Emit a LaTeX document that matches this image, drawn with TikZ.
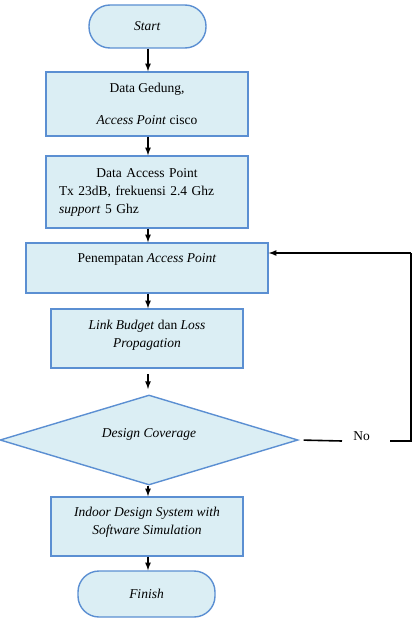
\documentclass[tikz,border=0pt]{standalone}
\usepackage{fontspec}
\setmainfont{Liberation Serif}
\usetikzlibrary{shapes.geometric}

\definecolor{boxfill}{RGB}{219,238,244}
\definecolor{boxline}{RGB}{91,143,210}

\tikzset{
    proc/.style={draw=boxline, fill=boxfill, line width=1.4pt, align=center,
        font=\fontsize{13.5}{18}\selectfont, inner sep=0pt},
    term/.style={proc, rounded corners=21pt},
    decision/.style={proc, diamond, aspect=3.3},
    flow/.style={->, >=latex, line width=1.6pt}
}

\begin{document}
\begin{tikzpicture}[x=1pt, y=-1pt]
        \useasboundingbox (0,0) rectangle (412,618);
        % blocks
        \node[term, minimum width=117pt, minimum height=43pt] (start) at (147.5,26.5) {\textit{Start}};
        \node[proc, minimum width=202pt, minimum height=64pt] (gedung) at (147,104)
            {Data Gedung,\\[14pt]\textit{Access Point} cisco};
        \node[proc, minimum width=202pt, minimum height=72pt, text width=176pt, align=left] (apdata) at (147,192)
            {\makebox[176pt][c]{Data Access Point}\\Tx 23dB, frekuensi 2.4 Ghz\\\textit{support} 5 Ghz};
        \node[proc, minimum width=242pt, minimum height=50pt] (tempat) at (147,268)
            {Penempatan \textit{Access Point}\\[2pt]\mbox{}};
        \node[proc, minimum width=192pt, minimum height=59pt] (link) at (147,338.5)
            {\textit{Link Budget} dan \textit{Loss}\\\textit{Propagation}\\[-8pt]\mbox{}};
        \node[decision, minimum width=298pt, minimum height=90pt] (cov) at (149,440)
            {\textit{Design Coverage}\\[-4pt]\mbox{}};
        \node[proc, minimum width=192pt, minimum height=59pt] (indoor) at (147,526.5)
            {\textit{Indoor Design System with}\\\textit{Software Simulation}\\[-6pt]\mbox{}};
        \node[term, minimum width=137pt, minimum height=46pt] (finish) at (146.5,594) {\textit{Finish}};
        \node[font=\fontsize{13.5}{16}\selectfont] (no) at (361.5,436) {No};

        \coordinate (a1) at (148,374);
        \coordinate (a2) at (148,389);
        \coordinate (n1) at (342,441);
        \coordinate (n2) at (390,441);
        \coordinate (up) at (411,253);

        % arrows
        \draw[flow] (start.south -| 148,0) -- (gedung.north -| 148,0);
        \draw[flow] (gedung.south -| 148,0) -- (apdata.north -| 148,0);
        \draw[flow] (apdata.south -| 148,0) -- (tempat.north -| 148,0);
        \draw[flow] (tempat.south -| 148,0) -- (link.north -| 148,0);
        \draw[flow] (a1) -- (a2);
        \draw[flow] (cov.south -| 148,0) -- (indoor.north -| 148,0);
        \draw[flow] (indoor.south -| 148,0) -- (finish.north -| 148,0);

        % loop back
        \draw[line width=1.6pt, shorten <=5pt] (cov.east) -- (n1);
        \draw[line width=1.6pt] (n2) -- (n2 -| up) -- (up);
        \draw[flow] (up) -- (tempat.east |- up);
    \end{tikzpicture}
\end{document}
